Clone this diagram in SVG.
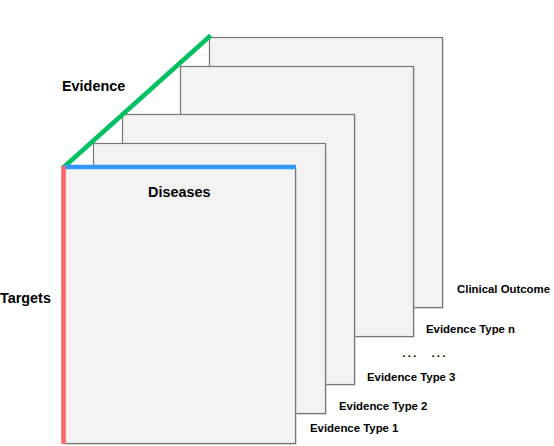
<svg xmlns="http://www.w3.org/2000/svg" width="554" height="446" viewBox="0 0 554 446">
<style>
.page{fill:#f3f3f3;stroke:#777;stroke-width:1.2}
.sh{fill:#c8c8c8}
.big{font-family:"Liberation Sans",Arial,sans-serif;font-weight:bold;font-size:14.4px;fill:#000}
.sm{font-family:"Liberation Sans",Arial,sans-serif;font-weight:bold;font-size:11.4px;fill:#000}
</style>
<rect width="554" height="446" fill="#fff"/>
<g id="clinical-outcome">
<rect class="sh" x="210.5" y="38.5" width="233" height="270"/>
<rect class="page" x="209.5" y="37.5" width="233" height="270"/>
<text class="sm" x="457" y="293">Clinical Outcome</text>
</g>
<g id="evidence-type-n">
<rect class="sh" x="181.5" y="67.5" width="233" height="270"/>
<rect class="page" x="180.5" y="66.5" width="233" height="270"/>
<text class="sm" x="426" y="333">Evidence Type n</text>
</g>
<g id="ellipsis">
<text class="sm" y="357" font-size="13.5px" letter-spacing="2.2"><tspan x="402.5">...</tspan><tspan x="431.5">...</tspan></text>
</g>
<g id="evidence-type-3">
<rect class="sh" x="123.5" y="115.5" width="232" height="270"/>
<rect class="page" x="122.5" y="114.5" width="232" height="270"/>
<text class="sm" x="367" y="381">Evidence Type 3</text>
</g>
<g id="evidence-type-2">
<rect class="sh" x="94.5" y="144.5" width="232" height="270"/>
<rect class="page" x="93.5" y="143.5" width="232" height="270"/>
<text class="sm" x="339" y="409.5">Evidence Type 2</text>
</g>
<g id="evidence-type-1">
<rect class="sh" x="65.5" y="168.5" width="231" height="276"/>
<rect class="page" x="64.5" y="167.5" width="231" height="276"/>
<text class="sm" x="310" y="431.5">Evidence Type 1</text>
</g>
<g id="axes">
<line x1="64" y1="167" x2="209" y2="37" stroke="#00c060" stroke-width="4.5" stroke-linecap="square"/>
<line x1="64" y1="167" x2="296" y2="167" stroke="#3399ff" stroke-width="4.5"/>
<line x1="63.5" y1="166" x2="63.5" y2="444" stroke="#ff6666" stroke-width="4.5"/>
</g>
<g id="labels">
<text class="big" x="62" y="91">Evidence</text>
<text class="big" x="148" y="197">Diseases</text>
<text class="big" x="0" y="303">Targets</text>
</g>
</svg>
